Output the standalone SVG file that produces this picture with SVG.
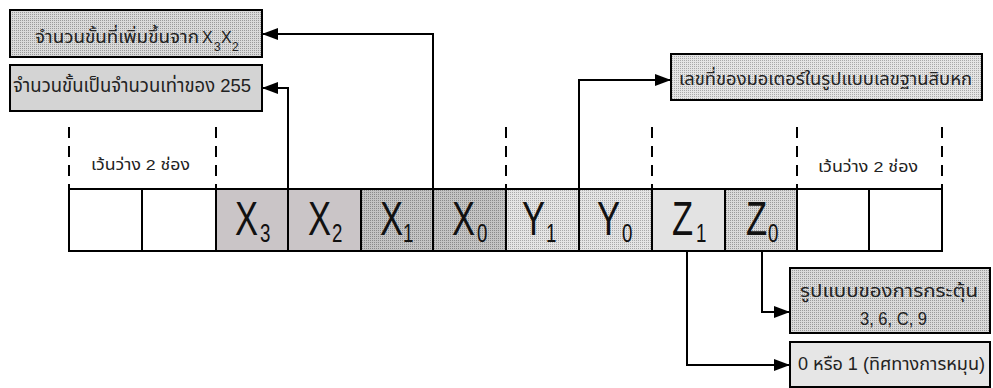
<svg xmlns="http://www.w3.org/2000/svg" width="993" height="388" viewBox="0 0 993 388">
<defs>
<pattern id="dotDark" width="2" height="2" patternUnits="userSpaceOnUse"><rect width="2" height="2" fill="#c4c4c4"/><rect width="1" height="1" fill="#8a8a8a"/></pattern>
<pattern id="dotMid" width="2" height="2" patternUnits="userSpaceOnUse"><rect width="2" height="2" fill="#dadada"/><rect width="1" height="1" fill="#9a9a9a"/></pattern>
<pattern id="dotLight" width="2" height="2" patternUnits="userSpaceOnUse"><rect width="2" height="2" fill="#e4e4e4"/><rect width="1" height="1" fill="#a8a8a8"/></pattern>
<marker id="arr" markerUnits="userSpaceOnUse" markerWidth="16" markerHeight="12" refX="16" refY="6" orient="auto"><path d="M0,0 L16,6 L0,12 z" fill="#000"/></marker>
</defs>
<style>
.box{stroke:#000;stroke-width:2}
.cell{stroke:#000;stroke-width:2}
.dash{stroke:#000;stroke-width:2;stroke-dasharray:11 8;fill:none}
.conn{stroke:#000;stroke-width:2;fill:none;marker-end:url(#arr)}
.th{font-family:"Liberation Sans","Noto Sans Thai","Noto Sans",sans-serif;fill:#222}
.big{font-family:"Liberation Sans",Arial,sans-serif;font-size:48px;fill:#111}
.sub{font-family:"Liberation Sans",Arial,sans-serif;font-size:26px;fill:#111}
</style>
<rect width="993" height="388" fill="#fff"/>

<g id="box-increment">
<rect class="box" x="10" y="10" width="252" height="47" fill="url(#dotMid)"/>
<text class="th" x="35" y="43" font-size="18" textLength="164" lengthAdjust="spacingAndGlyphs">จำนวนขั้นที่เพิ่มขึ้นจาก</text>
<text class="th" x="202" y="43" font-size="16">X</text>
<text class="th" x="214" y="51" font-size="12">3</text>
<text class="th" x="221" y="43" font-size="16">X</text>
<text class="th" x="232" y="51" font-size="12">2</text>
</g>

<g id="box-multiple">
<rect class="box" x="10" y="65" width="252" height="46" fill="#d4d4d4"/>
<text class="th" x="13" y="92" font-size="19" textLength="238" lengthAdjust="spacingAndGlyphs">จำนวนขั้นเป็นจำนวนเท่าของ 255</text>
</g>

<g id="box-motor">
<rect class="box" x="671" y="54" width="311" height="46" fill="url(#dotLight)"/>
<text class="th" x="679" y="85" font-size="18" textLength="293" lengthAdjust="spacingAndGlyphs">เลขที่ของมอเตอร์ในรูปแบบเลขฐานสิบหก</text>
</g>

<g id="box-pattern">
<rect class="box" x="790" y="268" width="200" height="65" fill="url(#dotMid)"/>
<text class="th" x="800" y="297" font-size="18" textLength="178" lengthAdjust="spacingAndGlyphs">รูปแบบของการกระตุ้น</text>
<text class="th" x="860" y="325" font-size="18" textLength="67" lengthAdjust="spacingAndGlyphs">3, 6, C, 9</text>
</g>

<g id="box-direction">
<rect class="box" x="790" y="342" width="200" height="45" fill="#e6e6e6"/>
<text class="th" x="798" y="370" font-size="18" textLength="187" lengthAdjust="spacingAndGlyphs">0 หรือ 1 (ทิศทางการหมุน)</text>
</g>

<g id="gap-left">
<line class="dash" x1="69" y1="127" x2="69" y2="189"/>
<line class="dash" x1="216" y1="127" x2="216" y2="189"/>
<text class="th" x="91" y="170" font-size="15" textLength="99" lengthAdjust="spacingAndGlyphs">เว้นว่าง 2 ช่อง</text>
</g>
<g id="gap-right">
<line class="dash" x1="797" y1="127" x2="797" y2="189"/>
<line class="dash" x1="942" y1="127" x2="942" y2="189"/>
<text class="th" x="818" y="172" font-size="15" textLength="100" lengthAdjust="spacingAndGlyphs">เว้นว่าง 2 ช่อง</text>
</g>
<g id="group-marks">
<line class="dash" x1="506" y1="127" x2="506" y2="189"/>
<line class="dash" x1="652" y1="127" x2="652" y2="189"/>
</g>

<g id="cells">
<rect class="cell" x="69" y="189" width="73" height="62" fill="#fff"/>
<rect class="cell" x="142" y="189" width="74" height="62" fill="#fff"/>
<g id="cell-X3"><rect class="cell" x="216" y="189" width="72" height="62" fill="#cac5c7"/>
<text class="big" transform="translate(235,235) scale(0.72,1)">X</text><text class="sub" transform="translate(260,242) scale(0.72,1)">3</text></g>
<g id="cell-X2"><rect class="cell" x="288" y="189" width="73" height="62" fill="#cac5c7"/>
<text class="big" transform="translate(308,235) scale(0.72,1)">X</text><text class="sub" transform="translate(332,242) scale(0.72,1)">2</text></g>
<g id="cell-X1"><rect class="cell" x="361" y="189" width="72" height="62" fill="url(#dotDark)"/>
<text class="big" transform="translate(380,235) scale(0.72,1)">X</text><text class="sub" transform="translate(403,242) scale(0.72,1)">1</text></g>
<g id="cell-X0"><rect class="cell" x="433" y="189" width="73" height="62" fill="url(#dotDark)"/>
<text class="big" transform="translate(452,235) scale(0.72,1)">X</text><text class="sub" transform="translate(477,242) scale(0.72,1)">0</text></g>
<g id="cell-Y1"><rect class="cell" x="506" y="189" width="73" height="62" fill="url(#dotLight)"/>
<text class="big" transform="translate(522,235) scale(0.72,1)">Y</text><text class="sub" transform="translate(546,242) scale(0.72,1)">1</text></g>
<g id="cell-Y0"><rect class="cell" x="579" y="189" width="73" height="62" fill="url(#dotLight)"/>
<text class="big" transform="translate(597,235) scale(0.72,1)">Y</text><text class="sub" transform="translate(622,242) scale(0.72,1)">0</text></g>
<g id="cell-Z1"><rect class="cell" x="652" y="189" width="73" height="62" fill="#e3e3e3"/>
<text class="big" transform="translate(672,235) scale(0.72,1)">Z</text><text class="sub" transform="translate(696,242) scale(0.72,1)">1</text></g>
<g id="cell-Z0"><rect class="cell" x="725" y="189" width="72" height="62" fill="url(#dotMid)"/>
<text class="big" transform="translate(746,235) scale(0.72,1)">Z</text><text class="sub" transform="translate(768,242) scale(0.72,1)">0</text></g>
<rect class="cell" x="797" y="189" width="72" height="62" fill="#fff"/>
<rect class="cell" x="869" y="189" width="73" height="62" fill="#fff"/>
</g>

<g id="connectors">
<path class="conn" d="M433,189 V34 H262"/>
<path class="conn" d="M288,189 V88 H262"/>
<path class="conn" d="M579,189 V80 H671"/>
<path class="conn" d="M762,251 V312 H790"/>
<path class="conn" d="M687,251 V365 H790"/>
</g>
</svg>
